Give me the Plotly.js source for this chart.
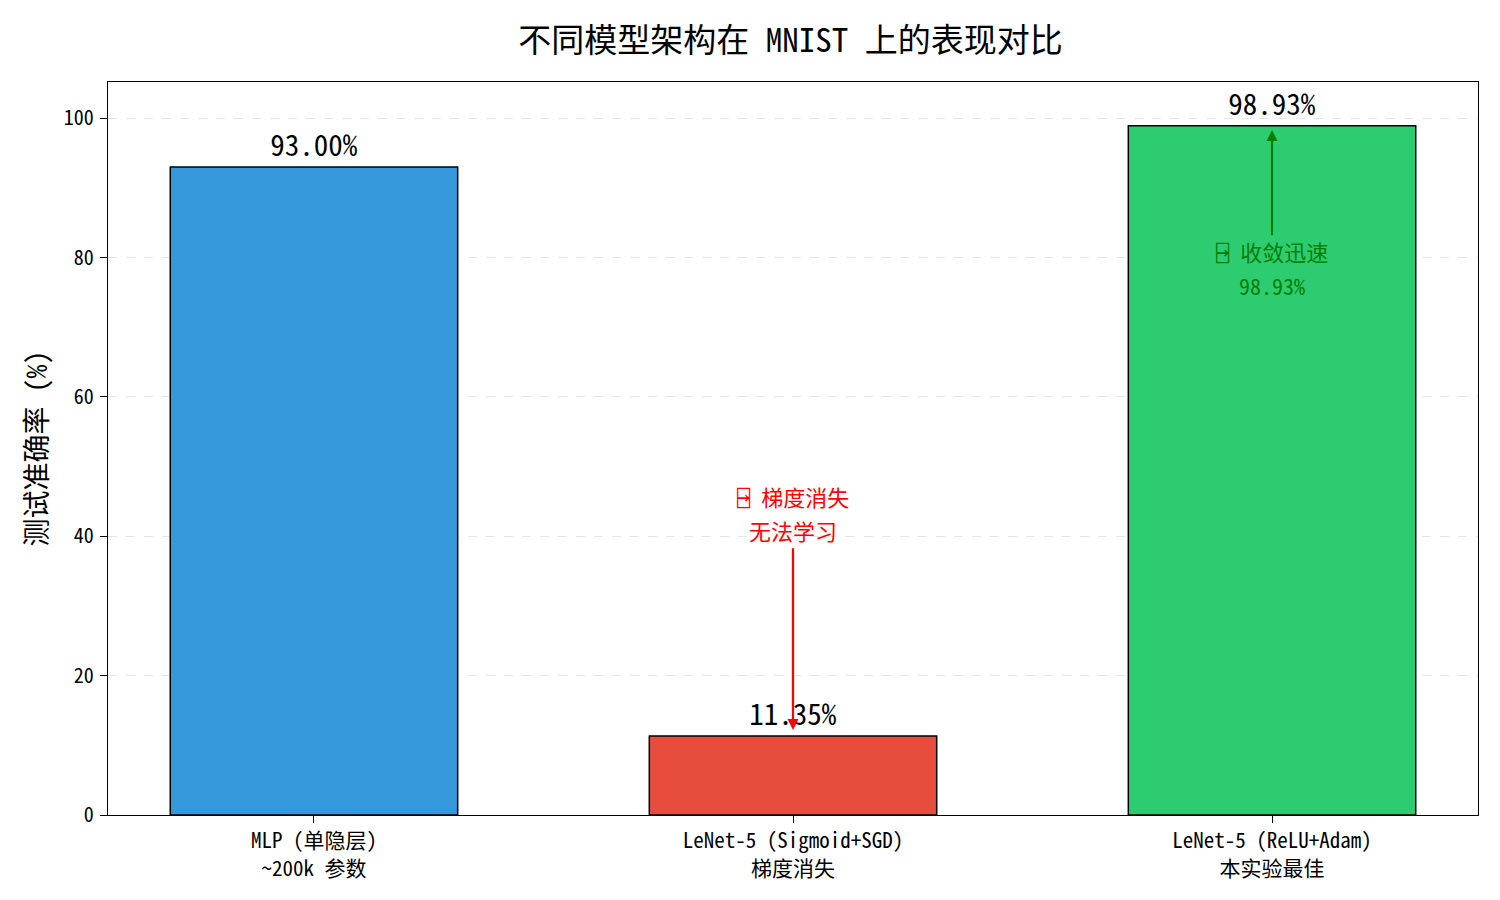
<!DOCTYPE html>
<html>
<head>
<meta charset="utf-8">
<script src="https://cdn.plot.ly/plotly-3.0.1.min.js"></script>
<style>body{margin:0;background:#fff}#chart{width:1500px;height:900px}</style>
</head>
<body>
<div id="chart"></div>
<script>
const categories = ["MLP (单隐层)<br>~200k 参数", "LeNet-5 (Sigmoid+SGD)<br>梯度消失", "LeNet-5 (ReLU+Adam)<br>本实验最佳"];
const accuracy = [93.00, 11.35, 98.93];
const barColors = ["#3498db", "#e74c3c", "#2ecc71"];
const valueLabels = ["93.00%", "11.35%", "98.93%"];
const yTicks = [0, 20, 40, 60, 80, 100];
const redNote = ["⍈ 梯度消失", "无法学习"];
const greenNote = ["⍈ 收敛迅速", "98.93%"];

const FONT = "Noto Sans Mono CJK SC, Noto Sans CJK SC, DejaVu Sans Mono, sans-serif";
const xIdx = [0, 1, 2];

const data = [{
  type: "bar",
  x: xIdx,
  y: accuracy,
  width: 0.6,
  marker: {color: barColors, line: {color: "#000", width: 1.5}},
  text: valueLabels,
  textposition: "outside",
  cliponaxis: false,
  textfont: {family: FONT, size: 29, color: "#000"},
  hoverinfo: "none"
}];

function note(x, yMid, lines, color, size) {
  return [
    {x: x, y: yMid, xref: "x", yref: "y", yanchor: "bottom", showarrow: false, borderpad: 0,
     text: lines[0], font: {family: FONT, size: size, color: color}},
    {x: x, y: yMid, xref: "x", yref: "y", yanchor: "top", showarrow: false, borderpad: 0,
     text: lines[1], font: {family: FONT, size: size, color: color}}
  ];
}

const layout = {
  width: 1500, height: 900,
  margin: {l: 108, r: 22, t: 82, b: 85},
  paper_bgcolor: "#fff", plot_bgcolor: "#fff",
  font: {family: FONT},
  title: {text: "不同模型架构在 MNIST 上的表现对比", font: {family: FONT, size: 33, color: "#000"}, x: 0.527, xanchor: "center", y: 0.955, yanchor: "middle"},
  showlegend: false,
  xaxis: {
    range: [-0.43, 2.43], tickmode: "array", tickvals: xIdx, ticktext: categories,
    showgrid: false, zeroline: false, showline: true, mirror: true, linecolor: "#000", linewidth: 1.2,
    ticks: "outside", ticklen: 7, tickcolor: "#000",
    tickfont: {family: FONT, size: 21, color: "#000"}
  },
  yaxis: {
    range: [0, 105.2], tickmode: "array", tickvals: yTicks,
    showgrid: true, gridcolor: "rgba(0,0,0,0.1)", griddash: "dash", gridwidth: 1,
    zeroline: false, showline: true, mirror: true, linecolor: "#000", linewidth: 1.2,
    ticks: "outside", ticklen: 7, tickcolor: "#000", ticklabelstandoff: 2,
    tickfont: {family: FONT, size: 20, color: "#000"},
    title: {text: "测试准确率 (%)", font: {family: FONT, size: 28, color: "#000"}, standoff: 8}
  },
  annotations: [
    {x: 1, y: 12.2, ax: 1, ay: 38.5, xref: "x", yref: "y", axref: "x", ayref: "y",
     showarrow: true, arrowhead: 2, arrowsize: 1, arrowwidth: 2.2, arrowcolor: "red", text: ""},
    ...note(1, 43.4, redNote, "red", 22),
    {x: 2, y: 98.3, ax: 2, ay: 83, xref: "x", yref: "y", axref: "x", ayref: "y",
     showarrow: true, arrowhead: 2, arrowsize: 1, arrowwidth: 2.2, arrowcolor: "green", text: ""},
    ...note(2, 78.5, greenNote, "green", 22)
  ]
};

Plotly.newPlot("chart", data, layout, {displayModeBar: false, staticPlot: true});
</script>
</body>
</html>
